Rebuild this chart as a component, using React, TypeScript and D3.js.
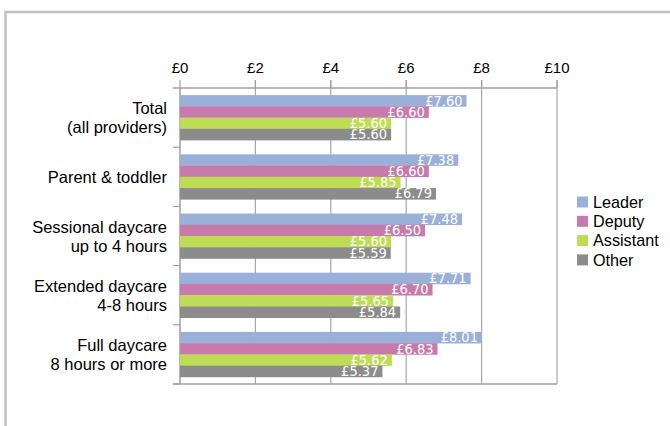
import React, { useEffect, useRef } from 'react';
import * as d3 from 'd3';

const categories = [
    ['Total', '(all providers)'],
    ['Parent & toddler'],
    ['Sessional daycare', 'up to 4 hours'],
    ['Extended daycare', '4-8 hours'],
    ['Full daycare', '8 hours or more'],
];
const seriesNames = ['Leader', 'Deputy', 'Assistant', 'Other'];
const leader = [7.60, 7.38, 7.48, 7.71, 8.01];
const deputy = [6.60, 6.60, 6.50, 6.70, 6.83];
const assistant = [5.60, 5.85, 5.60, 5.65, 5.62];
const other = [5.60, 6.79, 5.59, 5.84, 5.37];
const xTicks = [0, 2, 4, 6, 8, 10];

const colors = ['#9bb0d9', '#c77aab', '#bedd55', '#8c8c8c'];

const PayRatesChart: React.FC = () => {
    const chartRef = useRef<SVGSVGElement>(null);

    useEffect(() => {
        const svg = d3.select(chartRef.current);
        svg.selectAll("*").remove(); // Clear existing content

        const series = [leader, deputy, assistant, other];
        const keys = categories.map(c => c.join(' '));

        // outer frame (runs off the page on the right and bottom)
        svg.append("rect")
            .attr("x", 5.5).attr("y", 12)
            .attr("width", 720).attr("height", 460)
            .attr("fill", "none")
            .attr("stroke", "#c2c2c2")
            .attr("stroke-width", 2.5);

        const x = d3.scaleLinear().domain([0, 10]).range([180, 557]);
        const y0 = d3.scaleBand().domain(keys).range([88, 384])
            .paddingInner(0.24).paddingOuter(0.12);
        const y1 = d3.scaleBand().domain(seriesNames).range([0, y0.bandwidth()]);

        // gridlines
        svg.append("g").selectAll("line")
            .data(xTicks.slice(1))
            .enter().append("line")
            .attr("x1", d => x(d)).attr("x2", d => x(d))
            .attr("y1", 80).attr("y2", 384)
            .attr("stroke", "#a8a8a8").attr("stroke-width", 1.2);

        // top axis
        const top = svg.append("g");
        top.append("line")
            .attr("x1", 173).attr("x2", x(10))
            .attr("y1", 88).attr("y2", 88)
            .attr("stroke", "#a0a0a0").attr("stroke-width", 1.5);
        top.selectAll("line.tick")
            .data(xTicks)
            .enter().append("line")
            .attr("class", "tick")
            .attr("x1", d => x(d)).attr("x2", d => x(d))
            .attr("y1", 80).attr("y2", 88)
            .attr("stroke", "#a0a0a0").attr("stroke-width", 1.2);
        top.selectAll("text")
            .data(xTicks)
            .enter().append("text")
            .attr("x", d => x(d))
            .attr("y", 73)
            .attr("text-anchor", "middle")
            .attr("font-family", "'Liberation Sans', Arial, sans-serif")
            .attr("font-size", 15)
            .attr("fill", "#000")
            .text(d => `£${d}`);

        // bottom axis line
        svg.append("line")
            .attr("x1", 173).attr("x2", x(10))
            .attr("y1", 384).attr("y2", 384)
            .attr("stroke", "#a0a0a0").attr("stroke-width", 1.5);

        // left axis
        svg.append("line")
            .attr("x1", x(0)).attr("x2", x(0))
            .attr("y1", 88).attr("y2", 384)
            .attr("stroke", "#a0a0a0").attr("stroke-width", 1.5);
        const edges = keys.map(k => (y0(k) as number) - y0.step() * y0.paddingInner() / 2);
        edges.push(384);
        svg.append("g").selectAll("line")
            .data(edges.slice(1))
            .enter().append("line")
            .attr("x1", 173).attr("x2", x(0))
            .attr("y1", d => d).attr("y2", d => d)
            .attr("stroke", "#a0a0a0").attr("stroke-width", 1.2);

        // bars
        const groups = svg.append("g").selectAll("g")
            .data(keys)
            .enter().append("g")
            .attr("transform", d => `translate(0,${y0(d)})`);

        groups.each(function (_k, i) {
            const g = d3.select(this);
            seriesNames.forEach((name, s) => {
                const v = series[s][i];
                g.append("rect")
                    .attr("x", x(0))
                    .attr("y", y1(name) as number)
                    .attr("width", x(v) - x(0))
                    .attr("height", y1.bandwidth() + 0.3)
                    .attr("fill", colors[s]);
                g.append("text")
                    .attr("x", x(v) - 4)
                    .attr("y", (y1(name) as number) + y1.bandwidth() / 2 + 4.8)
                    .attr("text-anchor", "end")
                    .attr("font-family", "'Liberation Sans Narrow', 'DejaVu Sans Condensed', sans-serif")
                    .attr("font-size", 14.5)
                    .attr("fill", "#fff")
                    .text(`£${v.toFixed(2)}`);
            });
        });

        // category labels
        svg.append("g").selectAll("text")
            .data(categories)
            .enter().append("text")
            .attr("text-anchor", "end")
            .attr("font-family", "'Liberation Sans', Arial, sans-serif")
            .attr("font-size", 16.5)
            .attr("fill", "#000")
            .each(function (lines, i) {
                const cy = (y0(keys[i]) as number) + y0.bandwidth() / 2;
                const t = d3.select(this);
                const offsets = lines.length === 1 ? [6.5] : [-3.5, 15.5];
                lines.forEach((line, j) => {
                    t.append("tspan")
                        .attr("x", 167)
                        .attr("y", cy + offsets[j])
                        .text(line);
                });
            });

        // legend
        const legend = svg.append("g").selectAll("g")
            .data(seriesNames)
            .enter().append("g")
            .attr("transform", (_d, i) => `translate(577,${202 + i * 19.3})`);
        legend.append("rect")
            .attr("x", 0).attr("y", -5.5)
            .attr("width", 11).attr("height", 11)
            .attr("fill", (_d, i) => colors[i]);
        legend.append("text")
            .attr("x", 16).attr("y", 5.8)
            .attr("font-family", "'Liberation Sans', Arial, sans-serif")
            .attr("font-size", 16.2)
            .attr("fill", "#000")
            .text(d => d);
    }, []);

    return <svg ref={chartRef} width="670" height="426"
        style={{ position: 'absolute', left: 0, top: 0, background: '#fff' }}></svg>;
};

export default function App() {
    return <PayRatesChart />;
}
